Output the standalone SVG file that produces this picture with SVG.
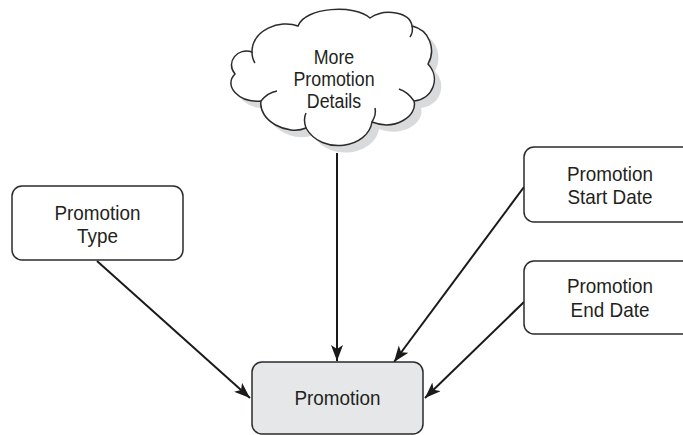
<svg xmlns="http://www.w3.org/2000/svg" width="683" height="435" viewBox="0 0 683 435">
  <style>
    .box { fill: #ffffff; stroke: #2b2b2b; stroke-width: 1.5; }
    .main { fill: #e6e7e8; stroke: #2b2b2b; stroke-width: 1.5; }
    .lbl { font-family: "Liberation Sans", Arial, sans-serif; font-size: 21px; fill: #231f20; text-anchor: middle; }
    .cloudlbl { font-size: 20px; }
    .edge { stroke: #1a1a1a; stroke-width: 2; fill: none; marker-end: url(#arrow); }
    .crease { fill: none; stroke: #2b2b2b; stroke-width: 1.5; }
  </style>
  <defs>
    <marker id="arrow" viewBox="0 0 16 12" refX="16" refY="6" markerWidth="16" markerHeight="12" markerUnits="userSpaceOnUse" orient="auto">
      <path d="M0,0 L16,6 L0,12 L4,6 Z" fill="#1a1a1a"/>
    </marker>
    <path id="cloudShape" d="M298,26 C305,7 355,4 370,18 C385,8 410,12 412,26 C430,30 436,50 428,64 C441,78 433,99 414,101 C418,116 395,131 372,122 C368,148 322,156 306,128 C288,136 258,121 261,101 C239,103 223,86 235,74 C225,62 238,47 252,52 C252,30 280,19 298,26 Z"/>
  </defs>

  <!-- connectors -->
  <g id="connectors">
    <line class="edge" x1="97" y1="261" x2="250" y2="398"/>
    <line class="edge" x1="337" y1="153" x2="337" y2="361"/>
    <line class="edge" x1="524" y1="187" x2="394" y2="362"/>
    <line class="edge" x1="524" y1="302" x2="425" y2="398"/>
  </g>

  <!-- cloud node with drop shadow -->
  <g id="more-promotion-details">
    <use href="#cloudShape" transform="translate(7,7)" fill="#d9dadb"/>
    <use href="#cloudShape" fill="#ffffff" stroke="#2b2b2b" stroke-width="1.5"/>
    <path class="crease" d="M261,101 C265,96 271,92 277,91"/>
    <path class="crease" d="M306,128 C304,122 304,117 306,113"/>
    <path class="crease" d="M372,122 C375,117 376,112 375,108"/>
    <path class="crease" d="M414,101 C410,95 405,91 399,89"/>
    <path class="crease" d="M252,52 C252,56 253,60 255,63"/>
    <path class="crease" d="M412,26 C413,30 412,34 410,37"/>
    <text class="lbl cloudlbl" transform="translate(334,64) scale(0.89,1)">More</text>
    <text class="lbl cloudlbl" transform="translate(334,86) scale(0.89,1)">Promotion</text>
    <text class="lbl cloudlbl" transform="translate(334,108) scale(0.89,1)">Details</text>
  </g>

  <g id="promotion-type">
    <rect class="box" x="12" y="186" width="171" height="74" rx="10"/>
    <text class="lbl" transform="translate(97.5,220) scale(0.9,1)">Promotion</text>
    <text class="lbl" transform="translate(97.5,243) scale(0.9,1)">Type</text>
  </g>

  <g id="promotion-start-date">
    <rect class="box" x="524" y="147" width="175" height="75" rx="10"/>
    <text class="lbl" transform="translate(610,181) scale(0.9,1)">Promotion</text>
    <text class="lbl" transform="translate(610,204) scale(0.9,1)">Start Date</text>
  </g>

  <g id="promotion-end-date">
    <rect class="box" x="524" y="261" width="175" height="73" rx="10"/>
    <text class="lbl" transform="translate(610,293) scale(0.9,1)">Promotion</text>
    <text class="lbl" transform="translate(610,317) scale(0.9,1)">End Date</text>
  </g>

  <g id="promotion">
    <rect class="main" x="252" y="362" width="171" height="72" rx="10"/>
    <text class="lbl" transform="translate(337.5,405) scale(0.9,1)">Promotion</text>
  </g>
</svg>
